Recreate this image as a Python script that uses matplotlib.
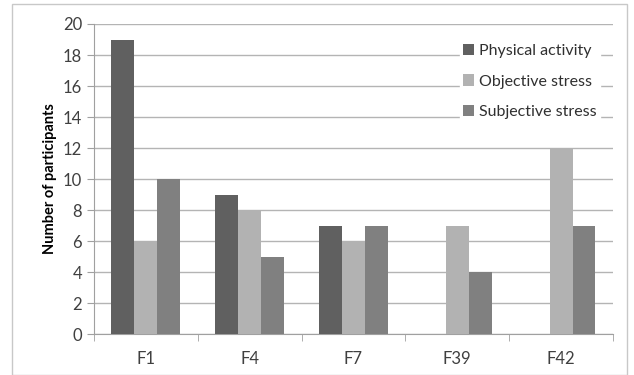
import numpy as np
import matplotlib.pyplot as plt
from matplotlib.patches import Rectangle

categories = ['F1', 'F4', 'F7', 'F39', 'F42']
physical = [19, 9, 7, 0, 0]
objective = [6, 8, 6, 7, 12]
subjective = [10, 5, 7, 4, 7]

plt.rcParams['font.family'] = ['Lato', 'DejaVu Sans']

fig = plt.figure(figsize=(6.34, 3.75), dpi=100)
ax = fig.add_axes([0.148, 0.109, 0.819, 0.827])

# outer chart border
fig.patches.append(Rectangle((12 / 634, 0.0), 615 / 634, 1 - 4 / 375, transform=fig.transFigure,
                             fill=False, edgecolor='#c8c8c8', lw=1))

x = np.arange(len(categories))
w = 0.22
ax.bar(x - w, physical, w, color='#606060', label='Physical activity', zorder=3)
ax.bar(x, objective, w, color='#b2b2b2', label='Objective stress', zorder=3)
ax.bar(x + w, subjective, w, color='#808080', label='Subjective stress', zorder=3)

ax.set_xlim(-0.5, len(categories) - 0.5)
ax.set_ylim(0, 20)
ax.set_yticks(np.arange(0, 21, 2))
ax.set_xticks(x)
ax.set_xticklabels(categories)
ax.set_xticks(np.arange(-0.5, len(categories)), minor=True)
ax.tick_params(axis='x', which='major', length=0, pad=12, labelsize=12, colors='#404040')
ax.tick_params(axis='x', which='minor', length=5, color='#a0a0a0')
ax.tick_params(axis='y', length=5, color='#a0a0a0', labelsize=12, labelcolor='#404040')

ax.grid(axis='y', color='#b4b4b4', lw=1, zorder=0)
for s in ['top', 'right']:
    ax.spines[s].set_visible(False)
for s in ['left', 'bottom']:
    ax.spines[s].set_color('#a0a0a0')

ax.set_ylabel('Number of participants', fontsize=10.5, fontweight='bold', labelpad=4)

leg = ax.legend(loc='upper right', bbox_to_anchor=(0.975, 0.945), frameon=True, fontsize=11.5,
                handlelength=0.7, handleheight=0.7, handletextpad=0.3, labelspacing=1.0,
                borderpad=0.2, borderaxespad=0)
leg.get_frame().set_edgecolor('white')
leg.get_frame().set_facecolor('white')
leg.get_frame().set_alpha(1)
leg.get_frame().set_boxstyle('square', pad=0)
for t in leg.get_texts():
    t.set_color('#303030')

fig.savefig('out.png', dpi=100)
